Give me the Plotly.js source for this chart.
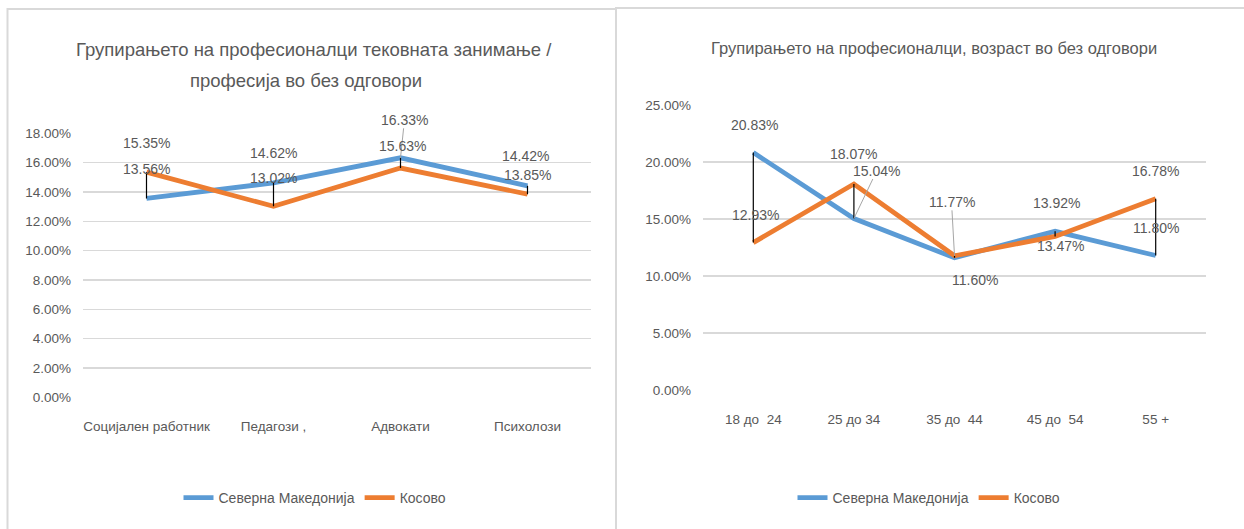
<!DOCTYPE html>
<html><head><meta charset="utf-8">
<script src="https://cdn.plot.ly/plotly-3.0.1.min.js"></script>
<style>html,body{margin:0;padding:0;background:#fff}#chart{width:1244px;height:529px}</style>
</head><body><div id="chart"></div>
<script>
// ---- data ----
const professionCategories = ['Социјален работник', 'Педагози ,', 'Адвокати', 'Психолози'];
const professionNorthMacedonia = [13.56, 14.62, 16.33, 14.42];
const professionKosovo = [15.35, 13.02, 15.63, 13.85];

const ageCategories = ['18 до\u00a0 24', '25 до 34', '35 до\u00a0 44', '45 до\u00a0 54', '55 +'];
const ageNorthMacedonia = [20.83, 15.04, 11.60, 13.92, 11.80];
const ageKosovo = [12.93, 18.07, 11.77, 13.47, 16.78];

const seriesNames = ['Северна Македонија', 'Косово'];
const leftTitleLines = ['Групирањето на професионалци тековната занимање /', 'професија во без одговори'];
const rightTitle = 'Групирањето на професионалци, возраст во без одговори';

// ---- styling (label placement offsets in px: [xshift, yshift, arrow]) ----
const W = 1244, H = 529;
const FONT = '"Liberation Sans", Arial, sans-serif';
const TXT = '#595959';
const BLUE = '#5B9BD5', ORANGE = '#ED7D31', GRID = '#D9D9D9';
const leftBlueOff = [[0, 29], [0, 30], [4, 38, true], [-2, 30]];
const leftOrangeOff = [[0, 29], [0, 28], [2, 22], [0, 19]];
const rightBlueOff = [[1, 28], [23, 48, true], [20, -22], [1, 28], [0, 27]];
const rightOrangeOff = [[2, 28], [0, 30], [-3, 54, true], [5, -10], [0, 28]];

const px = v => v / W, py = v => 1 - v / H;

function hiLo(cats, a, b, xa, ya) {
  const x = [], y = [];
  cats.forEach((c, i) => { x.push(c, c, null); y.push(Math.min(a[i], b[i]), Math.max(a[i], b[i]), null); });
  return {x, y, xaxis: xa, yaxis: ya, mode: 'lines', line: {color: '#000', width: 1.2}, showlegend: false, hoverinfo: 'skip'};
}
function series(cats, vals, name, color, xa, ya, leg) {
  return {x: cats, y: vals, name, xaxis: xa, yaxis: ya, mode: 'lines', legend: leg,
    line: {color, width: 4.8}};
}
function labels(cats, vals, offs, xr, yr) {
  return cats.map((c, i) => {
    const o = offs[i];
    const base = {x: c, y: vals[i], xref: xr, yref: yr, text: vals[i].toFixed(2) + '%',
      font: {family: FONT, size: 14, color: TXT}};
    if (o[2]) {
      return Object.assign(base, {showarrow: true, ax: o[0], ay: -o[1], arrowhead: 0, arrowwidth: 1,
        arrowcolor: '#A6A6A6', standoff: 0, borderpad: 0});
    }
    return Object.assign(base, {showarrow: false, xshift: o[0], yshift: o[1]});
  });
}

const data = [
  series(professionCategories, professionNorthMacedonia, seriesNames[0], BLUE, 'x', 'y', 'legend'),
  series(professionCategories, professionKosovo, seriesNames[1], ORANGE, 'x', 'y', 'legend'),
  hiLo(professionCategories, professionNorthMacedonia, professionKosovo, 'x', 'y'),
  series(ageCategories, ageNorthMacedonia, seriesNames[0], BLUE, 'x2', 'y2', 'legend2'),
  series(ageCategories, ageKosovo, seriesNames[1], ORANGE, 'x2', 'y2', 'legend2'),
  hiLo(ageCategories, ageNorthMacedonia, ageKosovo, 'x2', 'y2')
];

const axisFont = {family: FONT, size: 13.5, color: TXT};
const xBase = {type: 'category', showgrid: false, showline: false, zeroline: false, ticks: '',
  tickfont: axisFont, ticklabelstandoff: 19, fixedrange: true};
const yBase = {showgrid: true, gridcolor: GRID, gridwidth: 1.5, zeroline: false, showline: false, ticks: '',
  tickfont: {family: FONT, size: 13.5, color: TXT}, tickformat: '.2f', ticksuffix: '%', ticklabelstandoff: 11, fixedrange: true};

const legendBase = {orientation: 'h', xanchor: 'center', y: py(498), yanchor: 'middle',
  font: {family: FONT, size: 14, color: TXT}, itemwidth: 30, tracegroupgap: 0, bgcolor: 'rgba(0,0,0,0)'};

const layout = {
  width: W, height: H, margin: {l: 0, r: 0, t: 0, b: 0},
  paper_bgcolor: '#fff', plot_bgcolor: 'rgba(0,0,0,0)',
  font: {family: FONT, color: TXT},
  xaxis: Object.assign({}, xBase, {domain: [px(83), px(591)], range: [-0.5, 3.5], anchor: 'y'}),
  yaxis: Object.assign({}, yBase, {domain: [py(397.3), py(133.3)], range: [0, 18], dtick: 2, anchor: 'x'}),
  xaxis2: Object.assign({}, xBase, {domain: [px(703), px(1206)], range: [-0.5, 4.5], anchor: 'y2'}),
  yaxis2: Object.assign({}, yBase, {domain: [py(390), py(105)], range: [0, 25], dtick: 5, anchor: 'x2'}),
  legend: Object.assign({}, legendBase, {x: px(315)}),
  legend2: Object.assign({}, legendBase, {x: px(929)}),
  shapes: [
    {type: 'rect', xref: 'paper', yref: 'paper', x0: px(7.5), x1: px(616), y0: -0.1, y1: py(9),
      line: {color: GRID, width: 2}},
    {type: 'rect', xref: 'paper', yref: 'paper', x0: px(616), x1: 1.1, y0: -0.1, y1: py(8),
      line: {color: GRID, width: 2}}
  ],
  annotations: [
    {xref: 'paper', yref: 'paper', x: px(314), y: py(49), text: leftTitleLines[0], showarrow: false,
      xanchor: 'center', yanchor: 'middle', font: {family: FONT, size: 18.5, color: TXT}},
    {xref: 'paper', yref: 'paper', x: px(306), y: py(80), text: leftTitleLines[1], showarrow: false,
      xanchor: 'center', yanchor: 'middle', font: {family: FONT, size: 18.5, color: TXT}},
    {xref: 'paper', yref: 'paper', x: px(934), y: py(48), text: rightTitle, showarrow: false,
      xanchor: 'center', yanchor: 'middle', font: {family: FONT, size: 16.5, color: TXT}}
  ].concat(
    labels(professionCategories, professionNorthMacedonia, leftBlueOff, 'x', 'y'),
    labels(professionCategories, professionKosovo, leftOrangeOff, 'x', 'y'),
    labels(ageCategories, ageNorthMacedonia, rightBlueOff, 'x2', 'y2'),
    labels(ageCategories, ageKosovo, rightOrangeOff, 'x2', 'y2')
  )
};

Plotly.newPlot('chart', data, layout, {displayModeBar: false, staticPlot: true});
</script></body></html>
